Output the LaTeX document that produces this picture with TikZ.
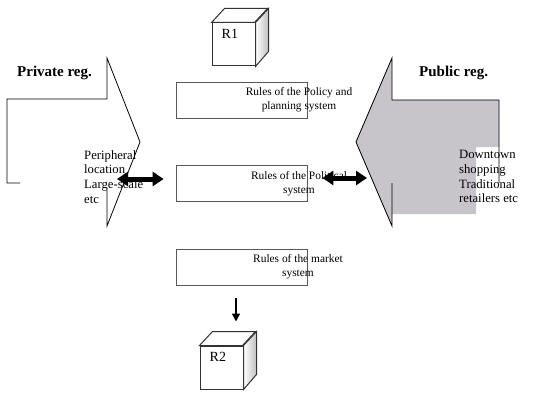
\documentclass[tikz,border=0pt]{standalone}
\usepackage{fontspec}
\setmainfont{Liberation Serif}
\usetikzlibrary{arrows.meta}
\pgfdeclarelayer{bg}
\pgfsetlayers{bg,main}
\definecolor{pubgray}{RGB}{200,197,202}
\definecolor{sidegray}{RGB}{190,190,190}
\tikzset{
    rulebox/.style={rectangle, draw=gray!70!black, line width=0.8pt, minimum width=131pt, minimum height=36pt, inner sep=0pt},
    ruletext/.style={align=center, inner sep=0pt, font=\fontsize{11.4}{14}\selectfont},
    sidetext/.style={align=left, anchor=north west, inner sep=0pt, font=\fontsize{12.7}{14.8}\selectfont},
    regtext/.style={anchor=base west, inner sep=0pt, font=\fontsize{15}{18}\selectfont\bfseries},
    cube/.style={rectangle, draw=gray!40!black, line width=1pt, fill=white, minimum size=43pt, inner sep=0pt},
    cubelabel/.style={anchor=north west, inner sep=0pt, xshift=10pt, yshift=-7pt, font=\fontsize{14}{16}\selectfont},
    dblarrow/.style={{Triangle[length=11pt,width=14pt]}-{Triangle[length=11pt,width=14pt]}, line width=5pt},
    dnarrow/.style={-{Triangle[length=8pt,width=8pt]}, line width=1.6pt},
    outline/.style={draw=black, line width=0.8pt}
}

\begin{document}
\begin{tikzpicture}
    \useasboundingbox (0pt, 0pt) rectangle (535pt, -409pt);

    % regimes
    \node (priv) [regtext] at (17pt, -77pt) {Private reg.};
    \node (pub) [regtext] at (419pt, -77pt) {Public reg.};
    \node (privtxt) [sidetext] at (84pt, -150pt) {Peripheral\\location\\Large-scale\\etc};
    \node (pubtxt) [sidetext] at (459pt, -150pt) {Downtown\\shopping\\Traditional\\retailers etc};

    % rules
    \node (policy) [rulebox] at (241.5pt, -100pt) {};
    \node (political) [rulebox] at (241.5pt, -183.5pt) {};
    \node (market) [rulebox] at (242pt, -267pt) {};
    \node (policytxt) [ruletext] at (299pt, -100pt) {Rules of the Policy and\\planning system};
    \node (politicaltxt) [ruletext] at (299pt, -184pt) {Rules of the Political\\system};
    \node (markettxt) [ruletext] at (298pt, -267pt) {Rules of the market\\system};

    % results
    \node (r1) [cube, label={[cubelabel]north west:R1}] at (233.5pt, -44.5pt) {};
    \node (r2) [cube, label={[cubelabel]north west:R2}] at (221.5pt, -367.5pt) {};

    \coordinate (pl) at (117pt, -179pt);
    \coordinate (pr) at (367pt, -178pt);

    \begin{pgfonlayer}{bg}
        \fill[pubgray] (392pt, -58pt) -- (392pt, -100pt) -- (499pt, -100pt) -- (499pt, -147pt)
            -- (476pt, -147pt) -- (476pt, -214pt) -- (392pt, -214pt) -- (392pt, -226pt)
            -- (356pt, -142pt) -- cycle;
        \draw[outline] (392pt, -183pt) -- (392pt, -226pt) -- (356pt, -142pt) -- (392pt, -58pt)
            -- (392pt, -100pt) -- (499pt, -100pt) -- (499pt, -183pt);

        \draw[outline] (20pt, -183pt) -- (7pt, -183pt) -- (7pt, -99pt) -- (107pt, -99pt)
            -- (107pt, -58pt) -- (140pt, -142pt) -- (107pt, -226pt) -- (107pt, -190pt);

        \foreach \c in {r1, r2} {
            \draw[draw=gray!40!black, line width=1pt, fill=white] (\c.north west) -- ++(13pt, 14pt)
                -- ++(43pt, 0pt) -- ++(-13pt, -14pt) -- cycle;
            \draw[draw=gray!40!black, line width=1pt, left color=white, right color=sidegray]
                (\c.north east) -- ++(13pt, 14pt) -- ++(0pt, -43pt) -- (\c.south east) -- cycle;
        }
    \end{pgfonlayer}

    \draw[dblarrow] (pl) -- ([xshift=-12pt, yshift=4.5pt]political.west);
    \draw[dblarrow] ([xshift=15pt, yshift=5.5pt]political.east) -- (pr);
    \draw[dnarrow] ([xshift=-6pt, yshift=-13pt]market.south) -- ([xshift=14.5pt, yshift=24pt]r2.north);
\end{tikzpicture}
\end{document}
